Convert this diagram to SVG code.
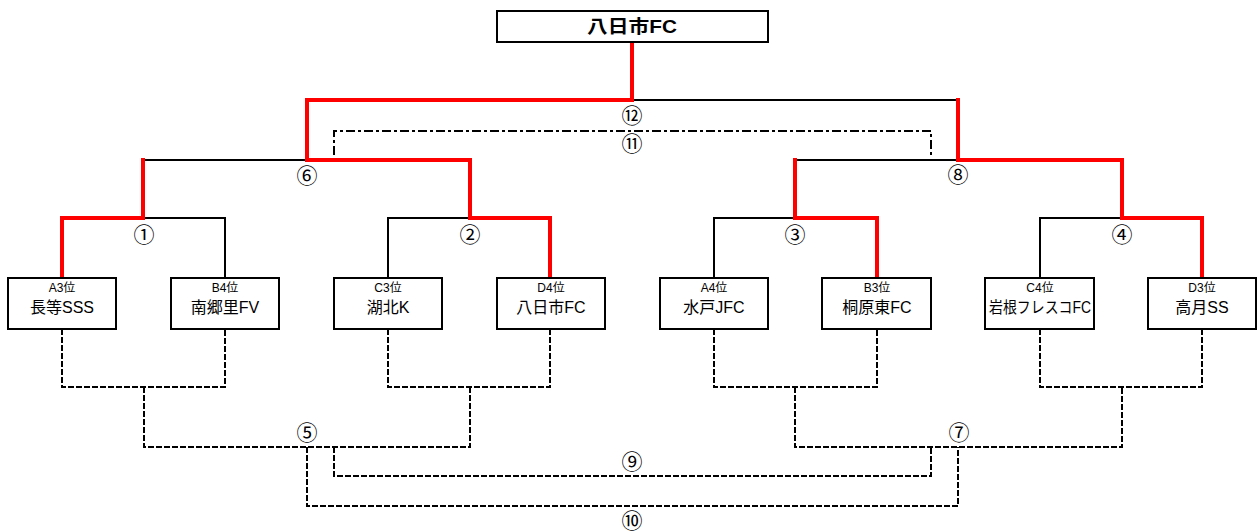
<svg xmlns="http://www.w3.org/2000/svg" width="1258" height="532" viewBox="0 0 1258 532">
<style>
.bg{fill:#fff}
.box{fill:#fff;stroke:#000;stroke-width:2}
.blk{fill:none;stroke:#000;stroke-width:2}
.red{fill:none;stroke:#ff0000;stroke-width:4;stroke-linejoin:miter;stroke-linecap:square}
.dsh{fill:none;stroke:#000;stroke-width:2;stroke-dasharray:6 2}
.dd{fill:none;stroke:#000;stroke-width:2;stroke-dasharray:9 3 3 3}
.t{font-family:"Liberation Sans","Noto Sans CJK JP",sans-serif;text-anchor:middle;fill:#000}
.rank{font-size:12px}
.name{font-size:16px}
.num{font-family:"Noto Sans CJK JP","DejaVu Sans",sans-serif;font-size:21px;text-anchor:middle;fill:#000}
.title{font-size:18px;font-weight:bold}
</style>
<rect class="bg" x="0" y="0" width="1258" height="532"/>
<g id="connectors">
<path class="blk" d="M632,100H958 M143,160H307 M795,160H958 M143,218H225V278 M388,278V218H470 M714,278V218H795 M1040,278V218H1122"/>
<path class="dd" d="M334,155V131H931V155"/>
<path class="dsh" d="M62,329V387H225V329 M388,329V387H550V329 M714,329V387H877V329 M1040,329V387H1202V329 M144,387V447H470V387 M795,387V447H1122V387 M334,447V476H931V447 M307,447V506H958V447"/>
<polyline class="red" points="632,43 632,100 307,100 307,160 470,160 470,218 550,218 550,277"/>
<polyline class="red" points="143,160 143,218 62,218 62,277"/>
<polyline class="red" points="958,100 958,160 1122,160 1122,218 1202,218 1202,277"/>
<polyline class="red" points="795,160 795,218 877,218 877,277"/>
</g>
<g id="labels">
<text class="num" x="632" y="123">⑫</text>
<text class="num" x="632" y="151">⑪</text>
<text class="num" x="307" y="183">⑥</text>
<text class="num" x="958" y="182">⑧</text>
<text class="num" x="144" y="242">①</text>
<text class="num" x="470" y="242">②</text>
<text class="num" x="795" y="242">③</text>
<text class="num" x="1122" y="242">④</text>
<text class="num" x="307" y="440">⑤</text>
<text class="num" x="959" y="440">⑦</text>
<text class="num" x="632" y="469">⑨</text>
<text class="num" x="632" y="528">⑩</text>
</g>
<g id="champion">
<rect class="box" x="497" y="11" width="271" height="31"/>
<text class="t title" x="632" y="33" textLength="90" lengthAdjust="spacingAndGlyphs">八日市FC</text>
</g>
<g id="team1">
<rect class="box" x="8" y="278" width="108" height="51"/>
<text class="t rank" x="62" y="292">A3位</text>
<text class="t name" x="62" y="313">長等SSS</text>
</g>
<g id="team2">
<rect class="box" x="171" y="278" width="108" height="51"/>
<text class="t rank" x="225" y="292">B4位</text>
<text class="t name" x="225" y="313">南郷里FV</text>
</g>
<g id="team3">
<rect class="box" x="334" y="278" width="108" height="51"/>
<text class="t rank" x="388" y="292">C3位</text>
<text class="t name" x="388" y="313">湖北K</text>
</g>
<g id="team4">
<rect class="box" x="497" y="278" width="108" height="51"/>
<text class="t rank" x="551" y="292">D4位</text>
<text class="t name" x="551" y="313">八日市FC</text>
</g>
<g id="team5">
<rect class="box" x="660" y="278" width="108" height="51"/>
<text class="t rank" x="714" y="292">A4位</text>
<text class="t name" x="714" y="313">水戸JFC</text>
</g>
<g id="team6">
<rect class="box" x="822" y="278" width="109" height="51"/>
<text class="t rank" x="877" y="292">B3位</text>
<text class="t name" x="877" y="313">桐原東FC</text>
</g>
<g id="team7">
<rect class="box" x="985" y="278" width="109" height="51"/>
<text class="t rank" x="1040" y="292">C4位</text>
<text class="t name" x="1040" y="313" textLength="102" lengthAdjust="spacingAndGlyphs">岩根フレスコFC</text>
</g>
<g id="team8">
<rect class="box" x="1148" y="278" width="108" height="51"/>
<text class="t rank" x="1202" y="292">D3位</text>
<text class="t name" x="1202" y="313">高月SS</text>
</g>
</svg>
